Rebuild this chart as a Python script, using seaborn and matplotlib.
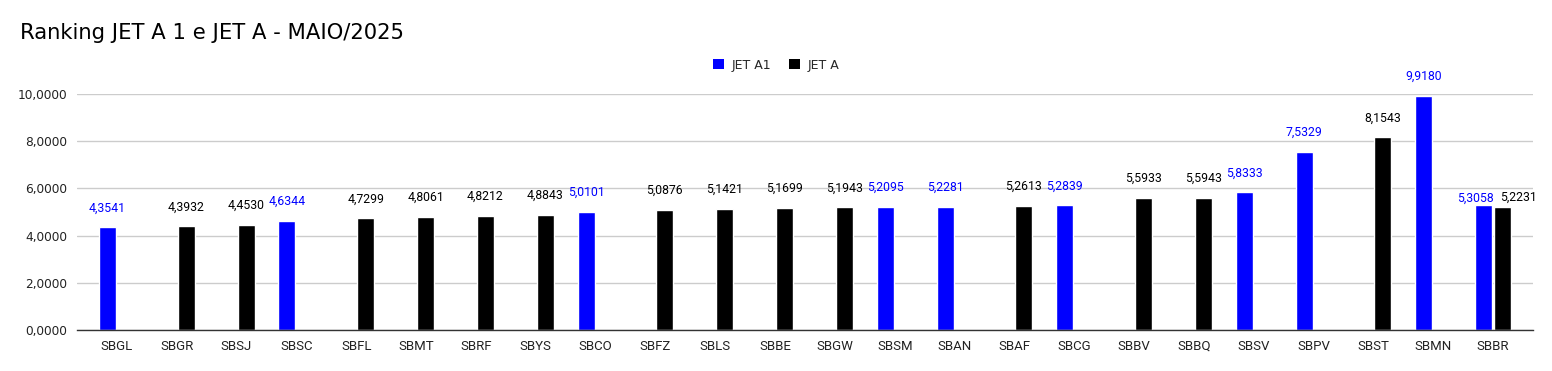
import matplotlib
matplotlib.use("Agg")
import matplotlib.pyplot as plt
import seaborn as sns
import pandas as pd
import numpy as np
from matplotlib.patches import Patch

categories = ["SBGL", "SBGR", "SBSJ", "SBSC", "SBFL", "SBMT", "SBRF", "SBYS",
              "SBCO", "SBFZ", "SBLS", "SBBE", "SBGW", "SBSM", "SBAN", "SBAF",
              "SBCG", "SBBV", "SBBQ", "SBSV", "SBPV", "SBST", "SBMN", "SBBR"]
jet_a1 = [4.3541, None, None, 4.6344, None, None, None, None,
          5.0101, None, None, None, None, 5.2095, 5.2281, None,
          5.2839, None, None, 5.8333, 7.5329, None, 9.9180, 5.3058]
jet_a = [None, 4.3932, 4.4530, None, 4.7299, 4.8061, 4.8212, 4.8843,
         None, 5.0876, 5.1421, 5.1699, 5.1943, None, None, 5.2613,
         None, 5.5933, 5.5943, None, None, 8.1543, None, 5.2231]
series = ["JET A1", "JET A"]
colors = {"JET A1": "#0000ff", "JET A": "#000000"}
y_ticks = [0, 2, 4, 6, 8, 10]

rows = []
for c, a1, a in zip(categories, jet_a1, jet_a):
    rows.append({"cat": c, "fuel": "JET A1", "val": np.nan if a1 is None else a1})
    rows.append({"cat": c, "fuel": "JET A", "val": np.nan if a is None else a})
df = pd.DataFrame(rows)

sns.set_style("white")
plt.rcParams["font.family"] = ["DejaVu Sans"]

fig = plt.figure(figsize=(15.52, 3.71), dpi=100)
ax = fig.add_axes([77 / 1552, (371 - 330.3) / 371, (1533 - 77) / 1552, (330.3 - 93.6) / 371])

sns.barplot(data=df, x="cat", y="val", hue="fuel", order=categories, hue_order=series,
            palette=colors, dodge=True, width=0.633, gap=0.1, errorbar=None,
            saturation=1, ax=ax, legend=False, zorder=3)

ax.set_xlim(-0.5 - 10 / 60, 23.5 + 10 / 60)
ax.set_ylim(0, 10)
ax.set_yticks(y_ticks)
ax.set_yticklabels([f"{v:.4f}".replace(".", ",") for v in y_ticks],
                   fontsize=8.7, color="#222222")
ax.set_xticks(range(len(categories)))
ax.set_xticklabels(categories, fontsize=9.5, family="Roboto", color="#222222")
ax.tick_params(axis="x", length=0, pad=7)
ax.tick_params(axis="y", length=0, pad=7)
ax.set_xlabel("")
ax.set_ylabel("")
ax.grid(axis="y", color="#cccccc", linewidth=1, zorder=0)
for s in ["top", "right", "left"]:
    ax.spines[s].set_visible(False)
ax.spines["bottom"].set_color("#333333")
ax.spines["bottom"].set_linewidth(1)
ax.spines["bottom"].set_zorder(4)

for container, name in zip(ax.containers, series):
    vals = jet_a1 if name == "JET A1" else jet_a
    for bar in container:
        h = bar.get_height()
        if not np.isfinite(h) or h <= 0:
            continue
        xc = bar.get_x() + bar.get_width() / 2
        idx = int(round(xc))
        v = vals[idx]
        if v is None:
            continue
        both = jet_a1[idx] is not None and jet_a[idx] is not None
        if both:
            offset = (-5.8, 5) if name == "JET A1" else (11.5, 6.5)
        else:
            offset = (0, 14)
        ax.annotate(f"{v:.4f}".replace(".", ","), (xc, h),
                    xytext=offset, textcoords="offset points",
                    ha="center", va="center", fontsize=8.8, family="Roboto",
                    color=colors[name], annotation_clip=False, zorder=5)

fig.text(20 / 1552, 1 - 33 / 371, "Ranking JET A 1 e JET A - MAIO/2025",
         fontsize=15.2, ha="left", va="center", color="#000000")

handles = [Patch(facecolor=colors[s], edgecolor="none") for s in series]
fig.legend(handles, series, loc="center", bbox_to_anchor=(776 / 1552, 1 - 65 / 371),
           ncol=2, frameon=False, fontsize=9, handlelength=0.9, handleheight=0.9,
           handletextpad=0.6, columnspacing=1.4)

fig.savefig("out.png", dpi=100, facecolor="white")
